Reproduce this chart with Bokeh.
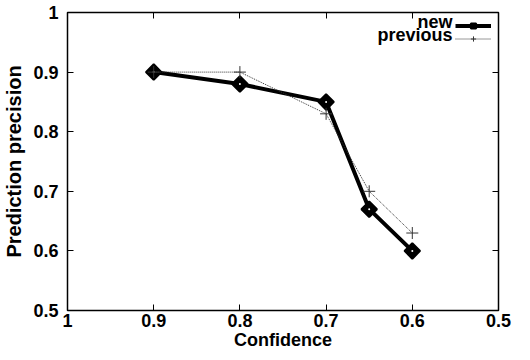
import math
from bokeh.plotting import figure
from bokeh.models import Range1d, FixedTicker, LinearAxis, Legend, LegendItem, Label
from bokeh.embed import file_html
from bokeh.resources import INLINE

confidence = [0.9, 0.8, 0.7, 0.65, 0.6]
new_vals = [0.90, 0.88, 0.85, 0.67, 0.60]
prev_vals = [0.90, 0.90, 0.83, 0.70, 0.63]
x_ticks = [1.0, 0.9, 0.8, 0.7, 0.6, 0.5]
y_ticks = [0.5, 0.6, 0.7, 0.8, 0.9, 1.0]
series_names = ["new", "previous"]

FONT = "Liberation Sans"

p = figure(width=522, height=352, output_backend="svg", toolbar_location=None,
           x_range=Range1d(1.0, 0.5), y_range=Range1d(0.5, 1.0),
           min_border_left=65, min_border_right=24, min_border_top=12, min_border_bottom=39)
p.xgrid.visible = False
p.ygrid.visible = False
p.outline_line_color = "black"
p.outline_line_width = 1.5
p.background_fill_color = "white"
p.border_fill_color = "white"

for ax in (p.xaxis[0], p.yaxis[0]):
    ax.major_label_text_font = FONT
    ax.major_label_text_font_style = "bold"
    ax.major_label_text_font_size = "18px"
    ax.major_label_text_color = "black"
    ax.axis_label_text_font = FONT
    ax.axis_label_text_font_style = "bold"
    ax.axis_label_text_color = "black"
    ax.major_tick_in = 6
    ax.major_tick_out = 0
    ax.minor_tick_in = 0
    ax.minor_tick_out = 0
    ax.axis_line_color = "black"
    ax.major_tick_line_color = "black"

p.xaxis[0].axis_label_text_font_size = "18px"
p.yaxis[0].axis_label_text_font_size = "20px"
p.xaxis[0].ticker = FixedTicker(ticks=x_ticks)
p.yaxis[0].ticker = FixedTicker(ticks=y_ticks)
p.xaxis[0].major_label_overrides = {1: "1"}
p.yaxis[0].major_label_overrides = {1: "1"}
p.xaxis[0].axis_label = "Confidence"
p.yaxis[0].axis_label = "Prediction precision"
p.xaxis[0].major_label_standoff = 3
p.xaxis[0].axis_label_standoff = 0
p.yaxis[0].major_label_standoff = 9
p.yaxis[0].axis_label_standoff = 5

top = LinearAxis(ticker=FixedTicker(ticks=x_ticks), major_label_text_font_size="0px",
                 major_tick_in=6, major_tick_out=0, minor_tick_in=0, minor_tick_out=0)
right = LinearAxis(ticker=FixedTicker(ticks=y_ticks), major_label_text_font_size="0px",
                   major_tick_in=6, major_tick_out=0, minor_tick_in=0, minor_tick_out=0)
top.major_label_text_alpha = 0
right.major_label_text_alpha = 0
p.add_layout(top, "above")
p.add_layout(right, "right")

l_new = p.line(confidence, new_vals, line_color="black", line_width=4)
s_new = p.scatter(confidence, new_vals, marker="square", size=11, angle=math.pi / 4,
                  fill_color="black", line_color="black", line_width=2)
s_new_dot = p.scatter(confidence, new_vals, marker="circle", size=2,
                      fill_color="white", line_color=None)
l_prev = p.line(confidence, prev_vals, line_color="#333333", line_width=1,
                line_dash="1 1")
s_prev = p.scatter(confidence, prev_vals, marker="cross", size=12,
                   line_color="#333333", line_width=1)

# legend glyphs (labels drawn separately to the left of the glyphs)
legend = Legend(items=[LegendItem(label=" ", renderers=[l_new, s_new]),
                       LegendItem(label="  ", renderers=[l_prev, s_prev])],
                location="top_right", border_line_color=None,
                background_fill_alpha=0, label_text_font=FONT,
                label_text_font_size="8px",
                label_height=13, glyph_height=13, glyph_width=36, spacing=0,
                padding=0, margin=7, label_standoff=0, label_width=0)
p.add_layout(legend)

for name, ypos in zip(series_names, [289, 276]):
    p.add_layout(Label(x=385, y=ypos, x_units="screen", y_units="screen", text=name,
                       text_align="right", text_baseline="middle", text_font=FONT,
                       text_font_style="bold", text_font_size="18px", text_color="black"))

open("out.html", "w").write(file_html(p, INLINE))
